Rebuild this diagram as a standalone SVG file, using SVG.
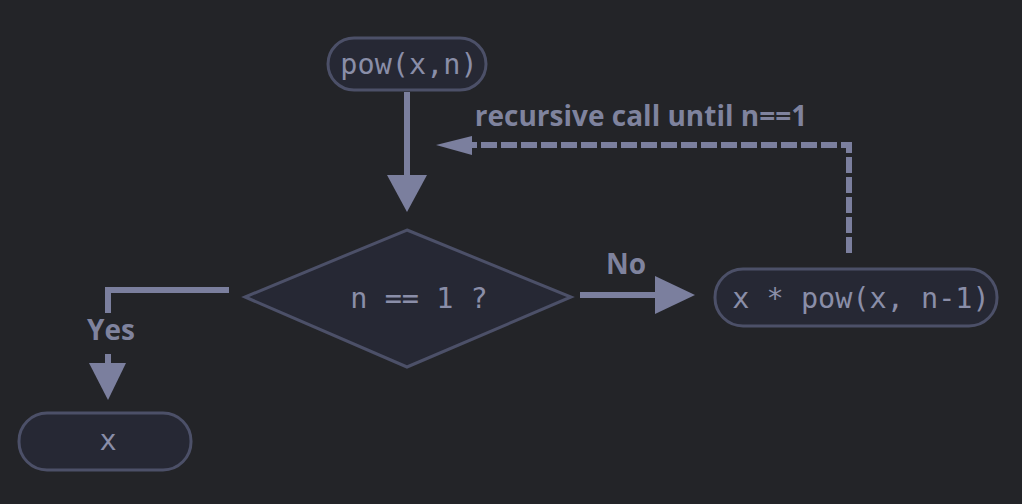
<svg xmlns="http://www.w3.org/2000/svg" width="1022" height="504" viewBox="0 0 1022 504">
<style>
.node{fill:#262834;stroke:#4c5068;stroke-width:3}
.mono{font-family:"DejaVu Sans Mono","Liberation Mono",monospace;font-size:28.5px;fill:#8a8ea8;text-anchor:middle}
.lbl{font-family:"Open Sans","Liberation Sans",sans-serif;font-weight:bold;font-size:28px;fill:#7f839e;text-anchor:middle}
.edge{fill:none;stroke:#7b7f9e;stroke-width:6}
.head{fill:#7b7f9e}
</style>
<rect width="1022" height="504" fill="#232428"/>
<g id="connectors">
<line class="edge" x1="407" y1="92" x2="407" y2="178"/>
<polygon class="head" points="387,175 427,175 407,212"/>
<line class="edge" x1="580" y1="295" x2="658" y2="295"/>
<polygon class="head" points="655,276 655,314 695,295"/>
<text class="lbl" x="626" y="274">No</text>
<polyline class="edge" points="229,290 108,290 108,313"/>
<text class="lbl" x="111" y="340">Yes</text>
<line class="edge" x1="108" y1="354" x2="108" y2="366"/>
<polygon class="head" points="89,363 126,363 108,400"/>
<polyline class="edge" points="849,253 849,145 470,145" stroke-dasharray="16,4"/>
<polygon class="head" points="472,136 472,155 436,145"/>
<text class="lbl" x="641" y="126">recursive call until n==1</text>
</g>
<g id="start">
<rect class="node" x="328" y="38" width="158" height="52" rx="26"/>
<text class="mono" x="409" y="74">pow(x,n)</text>
</g>
<g id="decision">
<polygon class="node" points="407,230 571,297 407,367 245,297"/>
<text class="mono" x="419" y="308">n == 1 ?</text>
</g>
<g id="recurse">
<rect class="node" x="715" y="269" width="282" height="57" rx="28"/>
<text class="mono" x="861" y="308">x * pow(x, n-1)</text>
</g>
<g id="base">
<rect class="node" x="19" y="413" width="172" height="57" rx="28"/>
<text class="mono" x="108" y="450">x</text>
</g>
</svg>
